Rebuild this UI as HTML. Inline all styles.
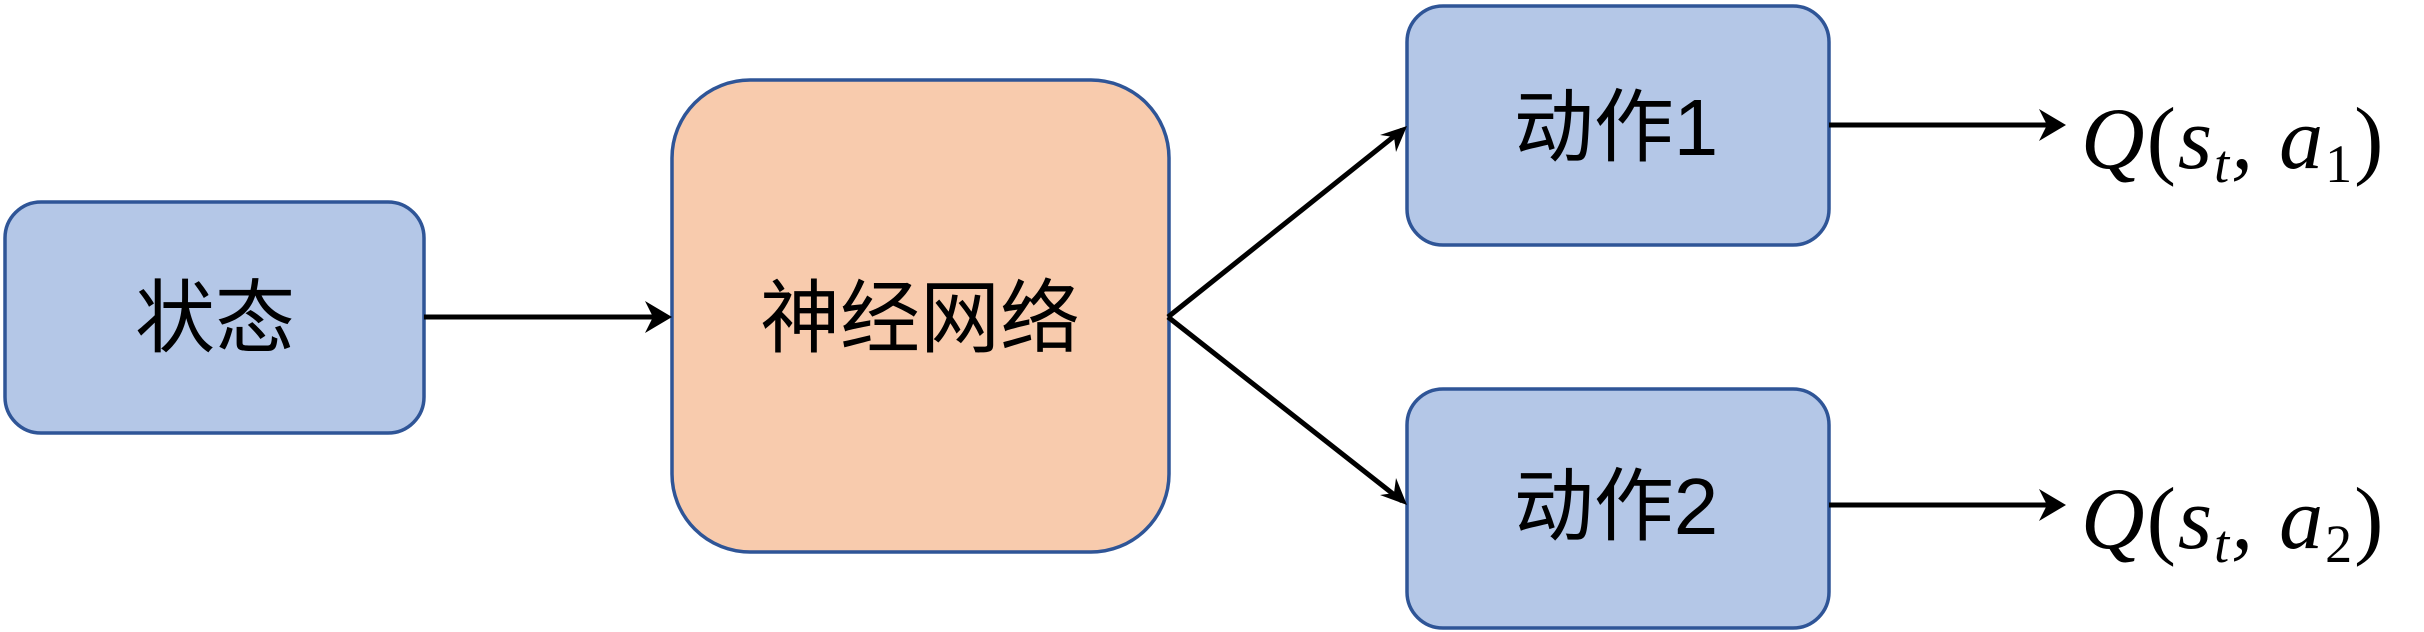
<!DOCTYPE html>
<html><head><meta charset="utf-8"><style>
html,body{margin:0;padding:0;background:#fff;}
svg{display:block;}
.cn{font-family:"Liberation Sans","Noto Sans CJK SC",sans-serif;font-size:80px;fill:#000;}
.m{font-family:"Liberation Serif",serif;font-style:italic;font-size:88px;fill:#000;letter-spacing:2px;}
</style></head><body>
<svg width="2424" height="632" viewBox="0 0 2424 632" xmlns="http://www.w3.org/2000/svg">
<g stroke="#2f5597" stroke-width="3.5">
<rect x="5" y="202" width="419" height="231" rx="36" fill="#b4c7e7"/>
<rect x="672" y="80" width="497" height="472" rx="78" fill="#f8cbad"/>
<rect x="1407" y="6" width="422" height="239" rx="36" fill="#b4c7e7"/>
<rect x="1407" y="389" width="422" height="239" rx="36" fill="#b4c7e7"/>
</g>
<g stroke="#000" stroke-width="5" fill="none">
<line x1="424" y1="317" x2="665" y2="317"/>
<line x1="1168" y1="317" x2="1402" y2="130"/>
<line x1="1168" y1="317" x2="1402" y2="501"/>
<line x1="1829" y1="125" x2="2060" y2="125"/>
<line x1="1829" y1="505" x2="2060" y2="505"/>
</g>
<g fill="#000">
<path d="M672 317 L645 301 L653 317 L645 333 Z"/>
<path d="M1407 126 L1380 135 L1394 137 L1396 152 Z"/>
<path d="M1407 505 L1396 478 L1394 493 L1380 495 Z"/>
<path d="M2066 125 L2039 109 L2047 125 L2039 141 Z"/>
<path d="M2066 505 L2039 489 L2047 505 L2039 521 Z"/>
</g>
<text class="cn" x="215" y="346" text-anchor="middle">状态</text>
<text class="cn" x="920" y="346" text-anchor="middle">神经网络</text>
<text class="cn" x="1616" y="155" text-anchor="middle">动作1</text>
<text class="cn" x="1616" y="534" text-anchor="middle">动作2</text>
<text class="m" x="2081" y="168">Q<tspan font-style="normal">(</tspan>s<tspan font-size="54" dy="14">t</tspan><tspan dy="-14">, a</tspan><tspan font-size="54" font-style="normal" dy="14">1</tspan><tspan font-style="normal" dy="-14">)</tspan></text>
<text class="m" x="2081" y="548">Q<tspan font-style="normal">(</tspan>s<tspan font-size="54" dy="14">t</tspan><tspan dy="-14">, a</tspan><tspan font-size="54" font-style="normal" dy="14">2</tspan><tspan font-style="normal" dy="-14">)</tspan></text>
</svg>
</body></html>
